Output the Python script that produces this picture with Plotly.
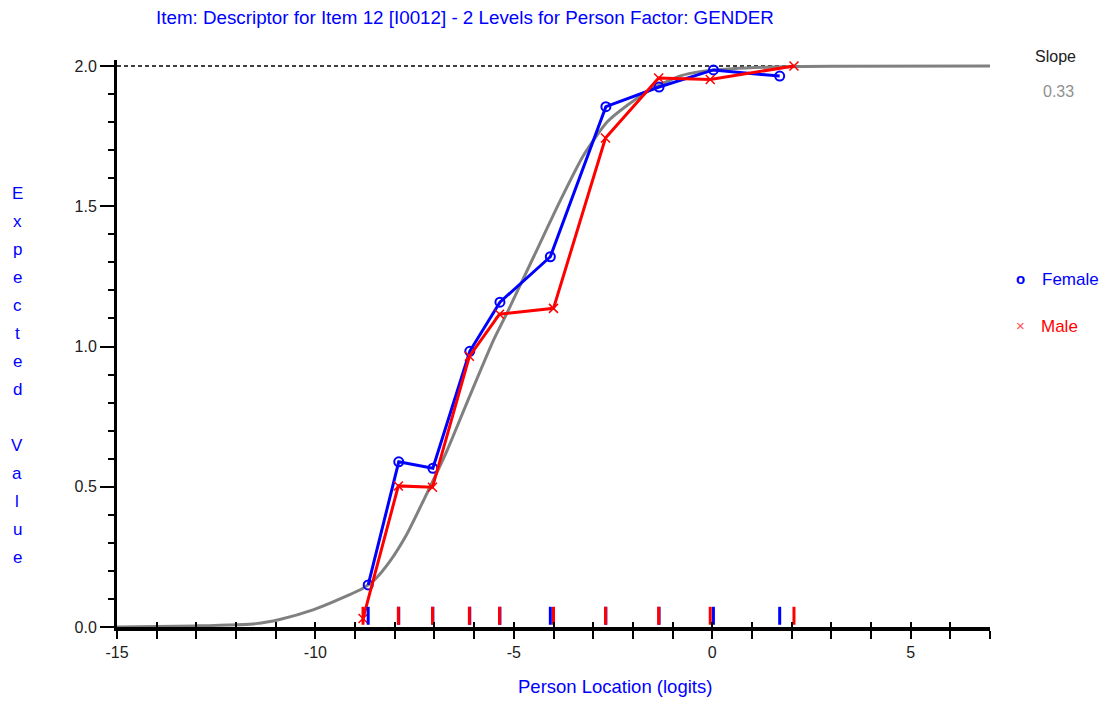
import plotly.graph_objects as go

# Class-interval means (person location, logits) and observed mean scores
female_x = [-8.67, -7.90, -7.04, -6.11, -5.35, -4.08, -2.68, -1.34, 0.03, 1.70]
female_y = [0.15, 0.589, 0.566, 0.983, 1.158, 1.320, 1.855, 1.925, 1.986, 1.964]
male_x = [-8.80, -7.91, -7.05, -6.12, -5.36, -4.00, -2.69, -1.35, -0.05, 2.06]
male_y = [0.03, 0.503, 0.498, 0.965, 1.115, 1.136, 1.743, 1.957, 1.952, 2.0]

# Expected value curve of the item
icc_x = [-15, -13, -11.5, -10.9, -10.06, -9.38, -8.79, -8.5, -8.12, -7.7, -7.28,
         -6.68, -6.18, -5.52, -5.17, -4.5, -3.83, -3.25, -2.65, -2.14, -1.5, -0.8,
         -0.3, 0.5, 1.5, 3.0, 7.0]
icc_y = [0.0, 0.004, 0.012, 0.027, 0.061, 0.10, 0.139, 0.17, 0.235, 0.33, 0.45,
         0.63, 0.80, 1.02, 1.12, 1.32, 1.52, 1.68, 1.80, 1.86, 1.92, 1.965,
         1.98, 1.99, 1.996, 1.999, 2.0]

max_score = 2.0
slope_text = "0.33"
x_range = [-15, 7]
x_labels = {-15: "-15", -10: "-10", -5: "-5", 0: "0", 5: "5"}
y_ticks = [0.0, 0.5, 1.0, 1.5, 2.0]

BLUE = "#0000ff"
RED = "#ff0000"
GREY = "#808080"
FONT = "Liberation Sans, Arial, sans-serif"

W, H = 1104, 706
L, R, T, B = 117, 990, 60, 627  # plot area in pixels
y_top = max_score + (66 - T) / 280.5


def px(x):
    return (x - L) / (R - L)


def py(y):
    return (B - y) / (B - T)


def rug(xs, h0=0.008, h1=0.072):
    xx, yy = [], []
    for v in xs:
        xx += [v, v, None]
        yy += [h0, h1, None]
    return xx, yy


fig = go.Figure()

# reference line at the maximum score
fig.add_trace(go.Scatter(x=x_range, y=[max_score, max_score], mode="lines",
                         line=dict(color="black", width=1.5, dash="4px,3px"),
                         hoverinfo="skip"))

# model curve
fig.add_trace(go.Scatter(x=icc_x, y=icc_y, mode="lines",
                         line=dict(color=GREY, width=3, shape="spline", smoothing=0.6),
                         hoverinfo="skip"))

# observed means
fig.add_trace(go.Scatter(x=female_x, y=female_y, mode="lines+markers", name="Female",
                         line=dict(color=BLUE, width=3),
                         marker=dict(symbol="circle-open", size=9, color=BLUE,
                                     line=dict(width=2, color=BLUE)),
                         cliponaxis=False))
fig.add_trace(go.Scatter(x=male_x, y=male_y, mode="lines+markers", name="Male",
                         line=dict(color=RED, width=3),
                         marker=dict(symbol="x-thin-open", size=9, color=RED,
                                     line=dict(width=1.5, color=RED)),
                         cliponaxis=False))

# rug of class-interval locations
fx, fy = rug(female_x)
mx, my = rug(male_x)
fig.add_trace(go.Scatter(x=fx, y=fy, mode="lines", line=dict(color=BLUE, width=3),
                         hoverinfo="skip"))
fig.add_trace(go.Scatter(x=mx, y=my, mode="lines", line=dict(color=RED, width=3),
                         hoverinfo="skip"))

# invisible trace so the overlay axis (upper tick halves) is drawn
fig.add_trace(go.Scatter(x=x_range, y=[None, None], xaxis="x2", mode="lines",
                         hoverinfo="skip"))

ints = list(range(x_range[0], x_range[1] + 1))
fig.update_layout(
    width=W, height=H,
    margin=dict(l=L, r=W - R, t=T, b=H - B),
    paper_bgcolor="white", plot_bgcolor="white",
    showlegend=False,
    font=dict(family=FONT, color="#202020", size=15),
    xaxis=dict(range=x_range, tickmode="array", tickvals=ints,
               ticktext=[x_labels.get(v, "") for v in ints],
               ticks="outside", ticklen=8, tickwidth=1.5, tickcolor="black",
               showgrid=False, zeroline=False,
               showline=True, linecolor="black", linewidth=3.5,
               tickfont=dict(size=16, color="#202020")),
    xaxis2=dict(range=x_range, overlaying="x", anchor="y", side="bottom",
                tickmode="array", tickvals=ints, showticklabels=False,
                ticks="inside", ticklen=5, tickwidth=1.5, tickcolor="black",
                showgrid=False, zeroline=False, showline=False),
    yaxis=dict(range=[0, y_top], tickmode="array", tickvals=y_ticks,
               ticktext=[f"{v:.1f}" for v in y_ticks],
               ticks="outside", ticklen=14, tickwidth=1.5, tickcolor="black",
               minor=dict(dtick=0.1, tick0=0, ticks="outside", ticklen=6,
                          tickwidth=1.5, tickcolor="black"),
               showgrid=False, zeroline=False,
               showline=True, linecolor="black", linewidth=3,
               tickfont=dict(size=16, color="#202020")),
)

ann = []
ann.append(dict(text="Item: Descriptor for Item 12 [I0012] - 2 Levels for Person Factor: GENDER",
                x=px(465), y=py(18), font=dict(size=18.8, color=BLUE)))
ann.append(dict(text="Person Location (logits)", x=px(615), y=py(686),
                font=dict(size=18.5, color=BLUE)))
ann.append(dict(text="Slope", x=px(1055), y=py(57), font=dict(size=16, color="#202020")))
ann.append(dict(text=slope_text, x=px(1058), y=py(91), font=dict(size=16, color="#909090")))
ann.append(dict(text="<b>o</b>", x=px(1020), y=py(278), font=dict(size=15, color=BLUE)))
ann.append(dict(text="Female", x=px(1070), y=py(279), font=dict(size=17, color=BLUE)))
ann.append(dict(text="×", x=px(1020), y=py(325), font=dict(size=15, color="#ff5050")))
ann.append(dict(text="Male", x=px(1059), y=py(326), font=dict(size=17, color=RED)))
for i, ch in enumerate("Expected Value"):
    if ch != " ":
        ann.append(dict(text=ch, x=px(17), y=py(193 + i * 28.0),
                        font=dict(size=17, color=BLUE)))
for a in ann:
    a.update(xref="paper", yref="paper", showarrow=False,
             xanchor="center", yanchor="middle")
fig.update_layout(annotations=ann)

fig.write_html("out.html")
